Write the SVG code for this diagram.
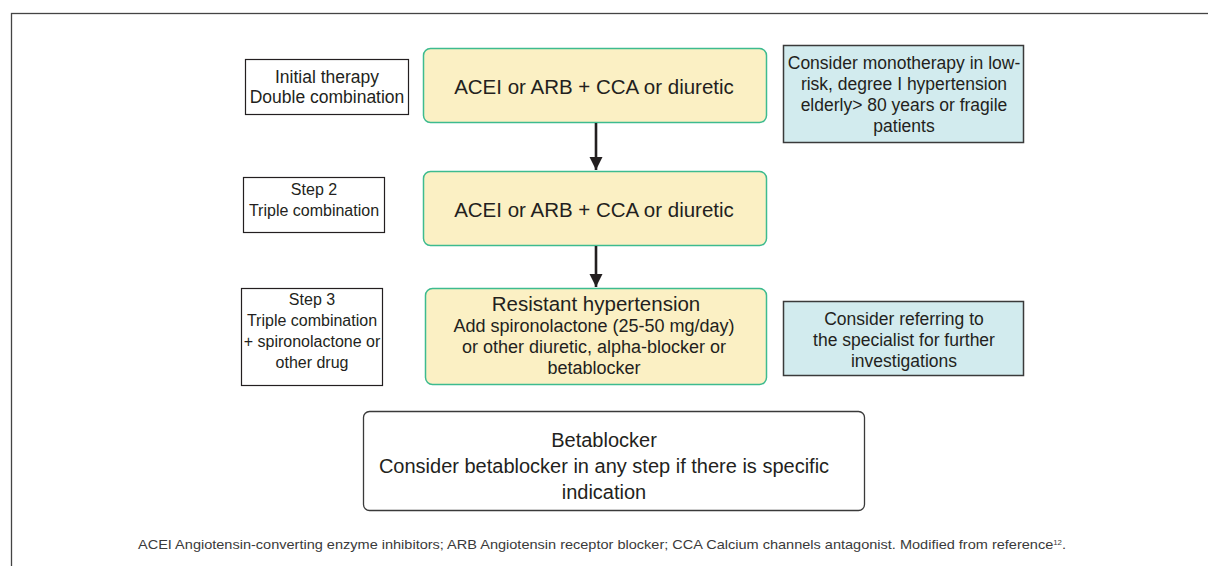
<svg xmlns="http://www.w3.org/2000/svg" width="1208" height="566" viewBox="0 0 1208 566">
<defs>
<marker id="ah" viewBox="0 0 10 10" refX="10" refY="5" markerWidth="5" markerHeight="5.5" orient="auto" markerUnits="strokeWidth">
<path d="M0,0 L10,5 L0,10 z" fill="#231f20"/>
</marker>
<style>
text{font-family:"Liberation Sans",Arial,sans-serif;fill:#231f20;text-anchor:middle}
.lab{fill:#fff;stroke:#231f20;stroke-width:1.2}
.yel{fill:#fbf0c4;stroke:#3dbb8f;stroke-width:1.5}
.blu{fill:#d2ebee;stroke:#3a3a3a;stroke-width:1.5}
.t15{font-size:17.5px}
.ts{font-size:16px}
.t19{font-size:20.5px}
.t18{font-size:20.5px}
.t16{font-size:18px}
.tb{font-size:20px}
.cap{font-size:13px;fill:#3a3a3a}
</style>
</defs>
<rect width="1208" height="566" fill="#fff"/>
<rect x="11.5" y="13.5" width="1210" height="570" fill="none" stroke="#444" stroke-width="1.3"/>

<g id="label-initial">
<rect class="lab" x="245.5" y="59.5" width="163" height="55"/>
<text class="t15" x="327" y="83">Initial therapy</text>
<text class="t15" x="327" y="103">Double combination</text>
</g>
<g id="label-step2">
<rect class="lab" x="243.5" y="177.5" width="141" height="55"/>
<text class="ts" x="314" y="195">Step 2</text>
<text class="ts" x="314" y="216">Triple combination</text>
</g>
<g id="label-step3">
<rect class="lab" x="241.5" y="288.5" width="141" height="97"/>
<text class="ts" x="312" y="305">Step 3</text>
<text class="ts" x="312" y="326">Triple combination</text>
<text class="ts" x="312" y="347">+ spironolactone or</text>
<text class="ts" x="312" y="368">other drug</text>
</g>

<g id="box-initial">
<rect class="yel" x="423.5" y="48.5" width="343" height="74" rx="7"/>
<text class="t19" x="594" y="94">ACEI or ARB + CCA or diuretic</text>
</g>
<g id="box-step2">
<rect class="yel" x="423.5" y="171.5" width="343" height="74" rx="7"/>
<text class="t19" x="594" y="217">ACEI or ARB + CCA or diuretic</text>
</g>
<g id="box-step3">
<rect class="yel" x="425.5" y="288.5" width="341" height="96" rx="7"/>
<text class="t18" x="596" y="311">Resistant hypertension</text>
<text class="t16" x="594" y="332">Add spironolactone (25-50 mg/day)</text>
<text class="t16" x="594" y="353">or other diuretic, alpha-blocker or</text>
<text class="t16" x="594" y="374">betablocker</text>
</g>

<g id="note-monotherapy">
<rect class="blu" x="783.5" y="45.5" width="240" height="97"/>
<text class="t15" x="904" y="69">Consider monotherapy in low-</text>
<text class="t15" x="904" y="90">risk, degree I hypertension</text>
<text class="t15" x="904" y="111">elderly&gt; 80 years or fragile</text>
<text class="t15" x="904" y="132">patients</text>
</g>
<g id="note-specialist">
<rect class="blu" x="783.5" y="301.5" width="240" height="74"/>
<text class="t15" x="904" y="325">Consider referring to</text>
<text class="t15" x="904" y="346">the specialist for further</text>
<text class="t15" x="904" y="367">investigations</text>
</g>

<g id="box-betablocker">
<rect x="363.5" y="411.5" width="501" height="99" rx="6" fill="#fff" stroke="#3a3a3a" stroke-width="1.3"/>
<text class="tb" x="604" y="447">Betablocker</text>
<text class="tb" x="604" y="473">Consider betablocker in any step if there is specific</text>
<text class="tb" x="604" y="499">indication</text>
</g>

<g id="connectors" stroke="#231f20" stroke-width="2.6" fill="none">
<line x1="596" y1="123" x2="596" y2="170" marker-end="url(#ah)"/>
<line x1="596" y1="246" x2="596" y2="287" marker-end="url(#ah)"/>
</g>

<text class="cap" x="602" y="549" textLength="928" lengthAdjust="spacingAndGlyphs">ACEI Angiotensin-converting enzyme inhibitors; ARB Angiotensin receptor blocker; CCA Calcium channels antagonist. Modified from reference<tspan font-size="7" dy="-4">12</tspan><tspan dy="4">.</tspan></text>
</svg>
